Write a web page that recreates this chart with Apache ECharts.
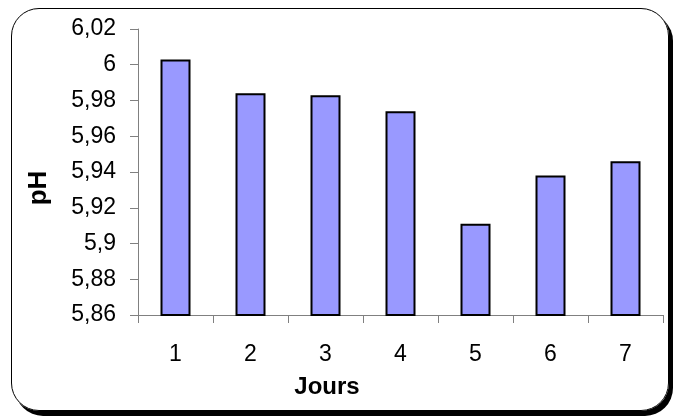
<!DOCTYPE html>
<html>
<head>
<meta charset="utf-8">
<script src="https://cdn.jsdelivr.net/npm/echarts@6/dist/echarts.min.js"></script>
<style>
    html, body { margin: 0; padding: 0; background: #fff; }
    #frame {
        position: absolute; left: 11px; top: 8px; width: 656px; height: 401px;
        border: 1px solid #000; border-radius: 28px;
        box-shadow: 4px 5px 0 #000;
    }
    #chart { position: absolute; left: 0; top: 0; width: 676px; height: 417px; }
</style>
</head>
<body>
<div id="frame"></div>
<div id="chart"></div>
<script>
const days = ['1', '2', '3', '4', '5', '6', '7']
const phValues = [6.003, 5.984, 5.983, 5.974, 5.911, 5.938, 5.946]

const chart = echarts.init(document.getElementById('chart'))
const font = 'Liberation Sans, Arial'

const option = {
    animation: false,
    grid: {
        left: 138,
        right: 13,
        top: 29,
        bottom: 102
    },
    xAxis: {
        type: 'category',
        data: days,
        axisLine: { lineStyle: { color: '#808080', width: 1 } },
        axisTick: { show: true, length: 8, lineStyle: { color: '#808080' } },
        axisLabel: {
            margin: 28,
            fontSize: 23,
            fontFamily: font,
            color: '#000'
        }
    },
    yAxis: {
        type: 'value',
        min: 5.86,
        max: 6.02,
        interval: 0.02,
        splitLine: { show: false },
        axisLine: { show: true, lineStyle: { color: '#808080', width: 1 } },
        axisTick: { show: true, length: 8, lineStyle: { color: '#808080' } },
        axisLabel: {
            margin: 22,
            fontSize: 23,
            fontFamily: font,
            color: '#000',
            formatter(v) {
                return String(parseFloat(v.toFixed(2))).replace('.', ',')
            }
        }
    },
    graphic: [{
        type: 'text',
        x: 327,
        y: 387,
        style: {
            text: 'Jours',
            fontSize: 24,
            fontWeight: 'bold',
            fontFamily: font,
            fill: '#000',
            align: 'center',
            verticalAlign: 'middle'
        }
    }, {
        type: 'text',
        x: 39,
        y: 188,
        rotation: Math.PI / 2,
        style: {
            text: 'pH',
            fontSize: 26,
            fontWeight: 'bold',
            fontFamily: font,
            fill: '#000',
            align: 'center',
            verticalAlign: 'middle'
        }
    }],
    series: [{
        type: 'bar',
        data: phValues,
        barWidth: 30,
        itemStyle: {
            color: '#9999FF',
            borderColor: '#000',
            borderWidth: 2
        }
    }]
}
chart.setOption(option)
</script>
</body>
</html>
